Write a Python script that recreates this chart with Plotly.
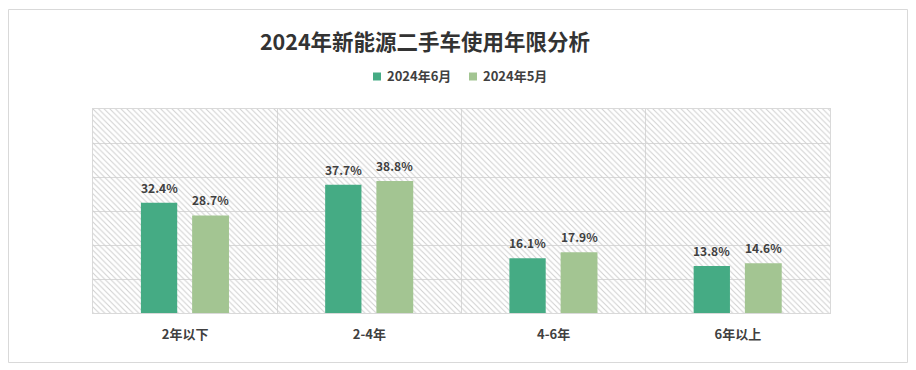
import plotly.graph_objects as go

categories = ["2年以下", "2-4年", "4-6年", "6年以上"]
june_2024 = [32.4, 37.7, 16.1, 13.8]
may_2024 = [28.7, 38.8, 17.9, 14.6]
series_names = ["2024年6月", "2024年5月"]
title_text = "2024年新能源二手车使用年限分析"
y_max = 60

FONT = "Noto Sans CJK SC, Microsoft YaHei, sans-serif"
DARK = "#45AB84"
LIGHT = "#A3C592"
TXT = "#404040"

# page body has 8px margin; work in reference pixel coords and subtract
OFF = 8
FW, FH = 916 - OFF, 370 - OFF
PL, PR, PT, PB = 93, 830, 109, 313  # plot area in reference px
L, T = PL - OFF, PT - OFF
R, B = FW - (PR - OFF), FH - (PB - OFF)
W, H = PR - PL, PB - PT
def px_x(v): return (v - PL) / W
def px_y(v): return (PB - v) / H

fig = go.Figure()

# hatched background
fig.add_trace(go.Bar(
    x=categories, y=[y_max] * len(categories), width=1, offset=-0.5,
    marker=dict(color="#cfcfcf", line=dict(width=0),
                pattern=dict(shape="\\", size=4, solidity=0.25, fillmode="replace")),
    showlegend=False, hoverinfo="skip",
))

bar_specs = [(june_2024, series_names[0], DARK, 0.197, -0.24, -26),
             (may_2024, series_names[1], LIGHT, 0.2, 0.038, 25.5)]
annotations = []
for vals, name, color, w, off, shift in bar_specs:
    fig.add_trace(go.Bar(
        x=categories, y=vals, name=name, width=w, offset=off,
        marker=dict(color=color, line=dict(width=0)),
        showlegend=False,
    ))
    for c, v in zip(categories, vals):
        annotations.append(dict(
            x=c, y=v, xref="x", yref="y", text=f"{v:.1f}%", showarrow=False,
            xshift=shift, yshift=5, yanchor="bottom",
            font=dict(family=FONT, size=12, color=TXT, weight="bold"),
        ))

# custom legend
shapes = []
legend_pos = [(373, DARK), (469, LIGHT)]
for (sx, color), name in zip(legend_pos, series_names):
    shapes.append(dict(type="rect", xref="paper", yref="paper",
                       x0=px_x(sx), x1=px_x(sx + 8), y0=px_y(80.5), y1=px_y(72.5),
                       fillcolor=color, line=dict(width=0)))
    annotations.append(dict(x=px_x(sx + 12), y=px_y(76), xref="paper", yref="paper",
                            xanchor="left", yanchor="middle", showarrow=False, text=name,
                            font=dict(family=FONT, size=13, color=TXT, weight="bold")))

# outer border
shapes.append(dict(type="rect", xref="paper", yref="paper",
                   x0=px_x(8.5), x1=px_x(907.5), y0=px_y(362.5), y1=px_y(9.5),
                   line=dict(color="#d9d9d9", width=1), fillcolor="rgba(0,0,0,0)"))

fig.update_layout(
    width=FW, height=FH,
    margin=dict(l=L, r=R, t=T, b=B),
    paper_bgcolor="white", plot_bgcolor="white",
    barmode="overlay",
    font=dict(family=FONT, color=TXT),
    title=dict(text=title_text, x=(425 - OFF) / FW, xanchor="center",
               y=1 - (42 - OFF) / FH, yanchor="middle",
               font=dict(family=FONT, size=21.5, color="#333333", weight="bold")),
    showlegend=False,
    annotations=annotations,
    shapes=shapes,
)
fig.update_xaxes(
    type="category", range=[-0.5, 3.5], tickson="boundaries",
    showgrid=True, gridcolor="#d9d9d9", gridwidth=1,
    showline=True, linecolor="#d9d9d9", linewidth=1, mirror=True,
    ticks="", ticklabelstandoff=9,
    tickfont=dict(family=FONT, size=13, color=TXT, weight="bold"),
)
fig.update_yaxes(
    range=[0, y_max], dtick=10, showticklabels=False,
    showgrid=True, gridcolor="#d9d9d9", gridwidth=1,
    showline=True, linecolor="#d9d9d9", linewidth=1, mirror=True,
    zeroline=False, ticks="",
)

fig.write_html("out.html")
